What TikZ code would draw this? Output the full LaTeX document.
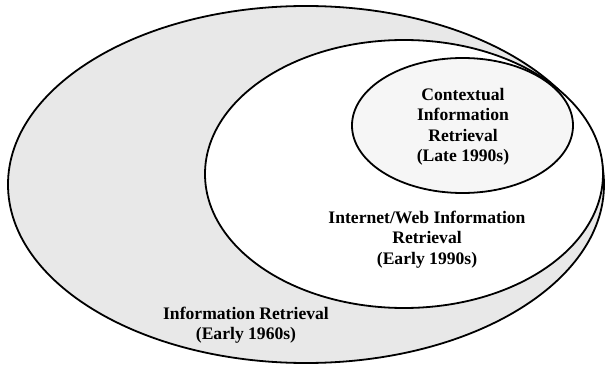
\documentclass[tikz,border=0pt]{standalone}
\usepackage{fontspec}
\setmainfont{Liberation Serif}
\usetikzlibrary{shapes.geometric}
\definecolor{outerfill}{HTML}{E8E8E8}
\definecolor{innerfill}{HTML}{F6F6F6}
\begin{document}
\begin{tikzpicture}[x=1pt,y=-1pt,
  ell/.style={ellipse, draw=black, line width=1.8pt, inner sep=0pt},
  lbl/.style={align=center, font=\fontsize{17.6}{20.5}\selectfont\bfseries, inner sep=0pt}]
\useasboundingbox (0,0) rectangle (605,366);
\node[ell, fill=outerfill, minimum width=596pt, minimum height=357pt] (outer) at (306,184.5) {};
\node[ell, fill=white, minimum width=398pt, minimum height=268pt] (middle) at (404,174) {};
\node[ell, fill=innerfill, minimum width=221pt, minimum height=135pt] (inner) at (462.5,125.5) {};
\node[lbl] (tinner) at (463,127) {Contextual\\Information\\Retrieval\\(Late 1990s)};
\node[lbl] (tmiddle) at (427,239.5) {Internet/Web Information\\Retrieval\\(Early 1990s)};
\node[lbl] (touter) at (246,325) {Information Retrieval\\(Early 1960s)};
\end{tikzpicture}
\end{document}
